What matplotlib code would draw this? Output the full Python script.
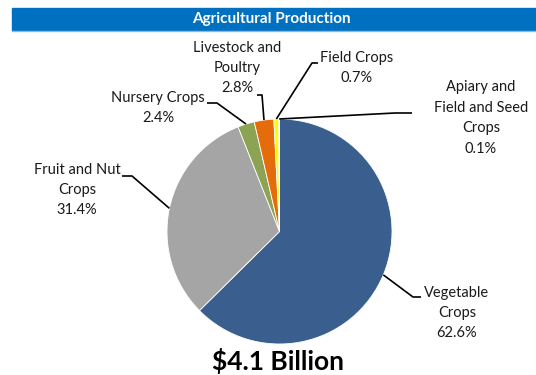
import matplotlib
matplotlib.use("Agg")
import matplotlib.pyplot as plt
import numpy as np

categories = ["Vegetable\nCrops", "Fruit and Nut\nCrops", "Nursery Crops",
              "Livestock and\nPoultry", "Field Crops", "Apiary and\nField and Seed\nCrops"]
values = [62.6, 31.4, 2.4, 2.8, 0.7, 0.1]
colors = ["#3A5F8F", "#A5A5A5", "#8BA353", "#E46C0A", "#FFFF00", "#FFFFC0"]
title = "Agricultural Production"
total_label = "$4.1 Billion"

W, H = 536, 375
fig = plt.figure(figsize=(W / 100, H / 100), dpi=100)
ax = fig.add_axes([0, 0, 1, 1])

FONT = ["Lato", "DejaVu Sans"]

def P(x, y):
    return (x, H - y)

cx, cy, R = 279.5, 231.5, 112.5
wedges, _ = ax.pie(values, colors=colors, startangle=90, counterclock=False,
                   center=P(cx, cy), radius=R,
                   wedgeprops=dict(edgecolor="white", linewidth=0.6))
ax.set_xlim(0, W)
ax.set_ylim(0, H)
ax.set_aspect("equal")
ax.axis("off")

# label layout: (text center, elbow point, end point) in pixel coords
layout = [
    ((457, 313), (413, 297), (421, 297)),
    ((77, 190), (132, 176), (122, 176)),
    ((158, 108), (217, 103), (207, 103)),
    ((237, 68), (262, 95), (257, 95)),
    ((357, 68), (312, 63), (318, 63)),
    ((481, 118), (395, 113), (412, 113)),
]

for w, cat, val, (tc, elbow, end) in zip(wedges, categories, values, layout):
    th = np.deg2rad((w.theta1 + w.theta2) / 2)
    px = w.center[0] + w.r * np.cos(th)
    py = w.center[1] + w.r * np.sin(th)
    xs = [px, elbow[0], end[0]]
    ys = [py, H - elbow[1], H - end[1]]
    ax.plot(xs, ys, color="black", lw=1.2, solid_capstyle="butt", zorder=5)
    ax.text(*P(*tc), f"{cat}\n{val}%", ha="center", va="center",
            fontsize=10.5, family=FONT, color="#1a1a1a", linespacing=1.58)

# title bar
ax.add_patch(plt.Rectangle(P(12, 30), W - 12, 22, color="#0070C0", zorder=1))
ax.plot([12, W], [H - 30.5, H - 30.5], color="#8FB8DE", lw=1)
ax.text(*P(271, 19), title, ha="center", va="center", fontsize=11,
        fontweight="bold", color="white", family=FONT)

ax.text(*P(278, 361), total_label, ha="center", va="center", fontsize=19,
        fontweight="bold", color="black", family=FONT)

fig.savefig("out.png", dpi=100)
